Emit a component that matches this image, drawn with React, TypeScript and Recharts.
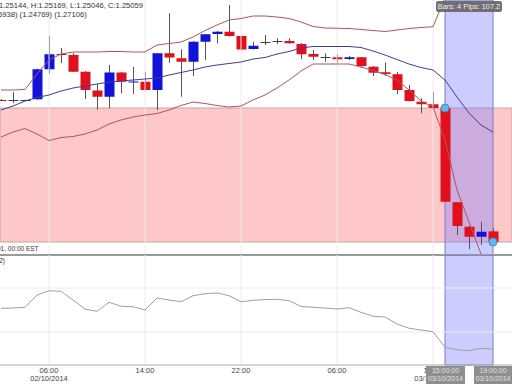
import React from 'react';
import { ComposedChart, Bar, Line, XAxis, YAxis, ReferenceArea, ReferenceLine, ReferenceDot } from 'recharts';

const opens = [1.26195,1.26193,1.26195,1.26201,1.26441,1.26563,1.26555,1.26421,1.26271,1.26221,1.26415,1.26339,1.26341,1.26275,1.26569,1.26529,1.26501,1.26661,1.26723,1.26741,1.26707,1.26603,1.26659,1.26665,1.26667,1.26643,1.26563,1.26537,1.26537,1.26523,1.26537,1.26461,1.26417,1.26401,1.26275,1.26181,1.26161,1.26131,1.25377,1.25181,1.25101,1.25144];
const highs = [1.26203,1.26259,1.26199,1.26445,1.26709,1.26611,1.26571,1.26427,1.26323,1.26475,1.26419,1.26459,1.26421,1.26571,1.26889,1.26601,1.26667,1.26723,1.26747,1.26955,1.26711,1.26661,1.26715,1.26689,1.26689,1.26651,1.26595,1.26569,1.26561,1.26547,1.26539,1.26467,1.26493,1.26421,1.26315,1.26209,1.26259,1.26133,1.25379,1.25187,1.25221,1.25169];
const lows = [1.26187,1.26171,1.26191,1.26197,1.26403,1.26491,1.26419,1.26203,1.26119,1.26131,1.26249,1.26243,1.26271,1.26115,1.26493,1.26221,1.26387,1.26515,1.26649,1.26703,1.26595,1.26599,1.26635,1.26641,1.26647,1.26523,1.26515,1.26501,1.26489,1.26515,1.26453,1.26387,1.26387,1.26241,1.26183,1.26089,1.26127,1.25379,1.25115,1.25001,1.25035,1.25046];
const closes = [1.26191,1.26195,1.26195,1.26441,1.26561,1.26555,1.26421,1.26275,1.26221,1.26415,1.26341,1.26343,1.26275,1.26569,1.26535,1.26501,1.26661,1.26721,1.26741,1.26707,1.26599,1.26629,1.26657,1.26663,1.26649,1.26561,1.26541,1.26535,1.26521,1.26537,1.26467,1.26413,1.26403,1.26275,1.26187,1.26161,1.26131,1.25381,1.25187,1.25101,1.25141,1.25059];
const bbUpper = [1.26275,1.26275,1.26279,1.26403,1.26515,1.26563,1.26579,1.26579,1.26579,1.26583,1.26583,1.26579,1.26579,1.26635,1.26647,1.26659,1.26699,1.26751,1.26795,1.26835,1.26847,1.26867,1.26867,1.26859,1.26847,1.26819,1.26783,1.26771,1.26769,1.26767,1.26759,1.26751,1.26743,1.26755,1.26767,1.26775,1.26781,1.27011,1.27059,1.27083,1.27099,1.27106];
const bbMid = [1.26115,1.26147,1.26187,1.26215,1.26235,1.26267,1.26291,1.26307,1.26323,1.26339,1.26347,1.26355,1.26363,1.26371,1.26395,1.26415,1.26435,1.26459,1.26475,1.26487,1.26499,1.26523,1.26535,1.26563,1.26583,1.26611,1.26623,1.26623,1.26623,1.26623,1.26615,1.26587,1.26555,1.26519,1.26483,1.26455,1.26435,1.26355,1.26219,1.26091,1.25995,1.25938];
const bbLower = [1.25899,1.25939,1.25967,1.25923,1.25871,1.25895,1.25903,1.25923,1.25955,1.26003,1.26035,1.26059,1.26075,1.26087,1.26115,1.26151,1.26179,1.26167,1.26151,1.26139,1.26147,1.26195,1.26235,1.26291,1.26355,1.26427,1.26483,1.26483,1.26483,1.26483,1.26459,1.26431,1.26399,1.26355,1.26275,1.26187,1.26139,1.25875,1.25475,1.25219,1.24963,1.24769];
const rsiValues = [51.5,51.8,52.5,63.6,67.5,67.0,59.1,50.9,48.8,57.0,53.4,53.0,50.0,60.9,59.1,57.5,63.0,64.8,65.5,63.0,57.5,58.8,59.5,59.7,58.5,53.2,52.5,51.8,50.9,52.1,47.9,44.3,43.6,37.3,33.4,31.8,30.3,16.1,13.9,13.0,15.2,14.3];

const tickIdx = [4, 12, 20, 28, 36];
const tickTimes = ['06:00', '14:00', '22:00', '06:00', '14:00'];
const tickDates = ['02/10/2014', '', '', '', '03/10/2014'];

const measureStart = 37;
const measureEnd = 41;
const measureTop = 1.26131;
const measureBottom = 1.25059;
const priceDomain = [1.24955, 1.26995];
const xDomain = [-1 / 12, 42.5833];

const BLUE = '#1212d8';
const RED = '#e2101c';
const FONT = '"Liberation Sans", Arial, Helvetica, sans-serif';

const data = opens.map((o, i) => ({
  i,
  o,
  h: highs[i],
  l: lows[i],
  c: closes[i],
  range: [lows[i], highs[i]],
  upper: bbUpper[i],
  mid: bbMid[i],
  lower: bbLower[i],
  rsi: rsiValues[i],
}));

const Candle = (props: any) => {
  let { x, y, width, height, payload } = props;
  if (height < 0) {
    y = y + height;
    height = -height;
  }
  const { o, h, l, c } = payload;
  const cx = Math.round(x + width / 2) + 0.5;
  const k = h - l > 0 ? height / (h - l) : 0;
  const top = y + (h - Math.max(o, c)) * k;
  const bot = y + (h - Math.min(o, c)) * k;
  const doji = Math.abs(c - o) < 0.000035;
  const bodyH = Math.max(1, bot - top);
  return (
    <g>
      <line x1={cx} x2={cx} y1={y} y2={y + height} stroke="#555" strokeWidth={1} />
      {doji ? (
        <line x1={cx - 5} x2={cx + 5} y1={Math.round(top) + 0.5} y2={Math.round(top) + 0.5} stroke="#3a3a6a" strokeWidth={1} />
      ) : (
        <rect x={cx - 5} y={top} width={10} height={bodyH} fill={c >= o ? BLUE : RED} />
      )}
    </g>
  );
};

const AxisTick = (props: any) => {
  const { x, y, index } = props;
  return (
    <g>
      <text x={x} y={y} textAnchor="middle" fontSize={7.5} fill="#444" fontFamily={FONT}>
        {tickTimes[index]}
      </text>
      {tickDates[index] ? (
        <text x={x} y={y + 8} textAnchor="middle" fontSize={7.5} fill="#444" fontFamily={FONT}>
          {tickDates[index]}
        </text>
      ) : null}
    </g>
  );
};

export default function App() {
  return (
    <div style={{ position: 'absolute', left: 0, top: 0, width: 512, height: 384, overflow: 'hidden', background: '#fff', fontFamily: FONT }}>
      <div style={{ position: 'absolute', left: 0, top: 0 }}>
        <ComposedChart width={512} height={255} data={data} margin={{ top: 0, right: 0, bottom: 0, left: 0 }}>
          <XAxis dataKey="i" type="number" domain={xDomain} hide allowDataOverflow />
          <YAxis type="number" domain={priceDomain} hide allowDataOverflow />
          {tickIdx.map((t) => (
            <ReferenceLine key={t} x={t} stroke="#ececec" strokeWidth={1} />
          ))}
          <ReferenceArea y1={measureBottom} y2={measureTop} fill="#ffc8c8" fillOpacity={1} stroke="#c8a4a4" strokeWidth={1} />
          <ReferenceArea x1={measureStart} x2={measureEnd} fill="#7f7fff" fillOpacity={0.4} stroke="#7a7ad0" strokeWidth={1} />
          <Bar dataKey="range" barSize={10} shape={<Candle />} isAnimationActive={false} />
          <Line dataKey="upper" type="linear" stroke="#b4545a" strokeWidth={1} dot={false} activeDot={false} isAnimationActive={false} />
          <Line dataKey="lower" type="linear" stroke="#b4545a" strokeWidth={1} dot={false} activeDot={false} isAnimationActive={false} />
          <Line dataKey="mid" type="linear" stroke="#3c3ca4" strokeWidth={1} dot={false} activeDot={false} isAnimationActive={false} />
          <ReferenceDot x={measureStart} y={measureTop} r={4} fill="#62b6ea" stroke="#3d90cc" strokeWidth={1} />
          <ReferenceDot x={measureEnd} y={measureBottom} r={4} fill="#62b6ea" stroke="#3d90cc" strokeWidth={1} />
        </ComposedChart>
      </div>
      <div style={{ position: 'absolute', left: 0, top: 254, width: 512, height: 2, background: '#9a9a9a' }} />
      <div style={{ position: 'absolute', left: 0, top: 255 }}>
        <ComposedChart width={512} height={129} data={data} margin={{ top: 0, right: 0, bottom: 0, left: 0 }}>
          <XAxis
            dataKey="i"
            type="number"
            domain={xDomain}
            ticks={tickIdx}
            tick={<AxisTick />}
            tickLine={false}
            axisLine={{ stroke: '#aaa' }}
            height={19}
            interval={0}
            allowDataOverflow
          />
          <YAxis type="number" domain={[0, 100]} hide allowDataOverflow />
          {tickIdx.map((t) => (
            <ReferenceLine key={t} x={t} stroke="#ececec" strokeWidth={1} />
          ))}
          <ReferenceLine y={70} stroke="#ececec" strokeWidth={1} />
          <ReferenceLine y={30} stroke="#ececec" strokeWidth={1} />
          <ReferenceArea x1={measureStart} x2={measureEnd} fill="#7f7fff" fillOpacity={0.4} stroke="#7a7ad0" strokeWidth={1} />
          <Line dataKey="rsi" type="linear" stroke="#a0a0a0" strokeWidth={1} dot={false} activeDot={false} isAnimationActive={false} />
        </ComposedChart>
      </div>
      <div style={{ position: 'absolute', left: -9, top: 1, fontSize: 7.6, color: '#333', whiteSpace: 'nowrap', lineHeight: '9px' }}>
        O:1.25144, H:1.25169, L:1.25046, C:1.25059
      </div>
      <div style={{ position: 'absolute', left: -15, top: 10, fontSize: 7.6, color: '#333', whiteSpace: 'nowrap', lineHeight: '9px' }}>
        (1.25938) (1.24769) (1.27106)
      </div>
      <div style={{ position: 'absolute', left: -3, top: 245, fontSize: 6.5, color: '#333', whiteSpace: 'nowrap', lineHeight: '8px' }}>
        01, 00:00 EST
      </div>
      <div style={{ position: 'absolute', left: -3, top: 257, fontSize: 6.5, color: '#333', whiteSpace: 'nowrap', lineHeight: '8px' }}>
        (2)
      </div>
      <div style={{ position: 'absolute', left: 436, top: 1, width: 66, height: 11, background: 'rgba(100,100,100,0.9)', borderRadius: 2, color: '#eee', fontSize: 7.4, lineHeight: '11px', textAlign: 'center', whiteSpace: 'nowrap' }}>
        Bars: 4 Pips: 107.2
      </div>
      <div style={{ position: 'absolute', left: 426, top: 366, width: 39, height: 18, background: '#8e8e8e', color: '#e2e2e2', fontSize: 7, lineHeight: '8px', textAlign: 'center', whiteSpace: 'nowrap', paddingTop: 1 }}>
        15:00:00<br />03/10/2014
      </div>
      <div style={{ position: 'absolute', left: 474, top: 366, width: 38, height: 18, background: '#8e8e8e', color: '#e2e2e2', fontSize: 7, lineHeight: '8px', textAlign: 'center', whiteSpace: 'nowrap', paddingTop: 1 }}>
        19:00:00<br />03/10/2014
      </div>
    </div>
  );
}
